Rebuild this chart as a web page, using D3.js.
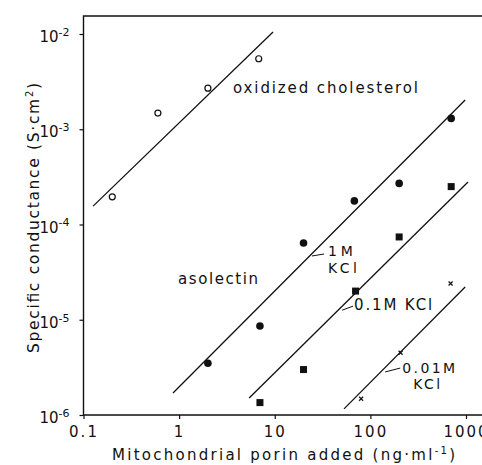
<!DOCTYPE html>
<html>
<head>
<meta charset="utf-8">
<script src="https://cdn.jsdelivr.net/npm/d3@7"></script>
<style>
  body { margin: 0; background: #fff; }
  svg { display: block; }
  text { font-family: "DejaVu Sans", "Liberation Sans", sans-serif; fill: #111; }
</style>
</head>
<body>
<svg id="svg" width="482" height="465"></svg>
<script>
'use strict';

// porin concentration (ng/ml) and conductance (S/cm2)
var cholX = [0.2, 0.6, 2, 6.8];
var cholY = [1.95e-4, 1.48e-3, 2.7e-3, 5.5e-3];
var kcl1X = [2, 7, 20, 68, 200, 700];
var kcl1Y = [3.5e-6, 8.6e-6, 6.4e-5, 1.77e-4, 2.7e-4, 1.3e-3];
var kcl01X = [7, 20, 70, 200, 700];
var kcl01Y = [1.35e-6, 3.0e-6, 2.0e-5, 7.4e-5, 2.5e-4];
var kcl001X = [80, 207, 690];
var kcl001Y = [1.48e-6, 4.5e-6, 2.4e-5];

// fitted lines, two ends each
var fitChol = [[0.126, 1.56e-4], [9.6, 1.05e-2]];
var fit1 = [[0.863, 1.70e-6], [980, 2.03e-3]];
var fit01 = [[5.4, 1.51e-6], [1050, 2.79e-4]];
var fit001 = [[53, 1.16e-6], [980, 2.21e-5]];

var xTicks = [0.1, 1, 10, 100, 1000];
var xTickLabels = ['0.1', '1', '10', '100', '1000'];
var yTicks = [1e-6, 1e-5, 1e-4, 1e-3, 1e-2];
var yTickExp = ['-6', '-5', '-4', '-3', '-2'];

var svg = d3.select('#svg');
var plotLeft = 83.5, plotBottom = 415, plotTop = 16;

var x = d3.scaleLog().domain([0.1, 1000]).range([plotLeft, 466]);
var y = d3.scaleLog().domain([1e-6, 1e-2]).range([plotBottom, 34]);

// frame: left, bottom and top lines running to the picture edge
svg.append('path')
    .attr('d', 'M482,' + plotTop + 'H' + plotLeft + 'V' + plotBottom + 'H482')
    .attr('fill', 'none').attr('stroke', '#111').attr('stroke-width', 1.4);

var xAxis = svg.append('g')
    .attr('transform', 'translate(0,' + plotBottom + ')')
    .call(d3.axisBottom(x).tickValues(xTicks).tickSize(4).tickPadding(7)
        .tickFormat(function(d, i) { return xTickLabels[i]; }));
xAxis.select('.domain').remove();
xAxis.selectAll('line').attr('stroke', '#111').attr('stroke-width', 1.2);
xAxis.selectAll('text')
    .attr('fill', '#111')
    .style('font-size', '15px')
    .style('letter-spacing', '2px')
    .style('font-family', '"DejaVu Sans", sans-serif');

var yAxis = svg.append('g')
    .attr('transform', 'translate(' + plotLeft + ',0)')
    .call(d3.axisLeft(y).tickValues(yTicks).tickSize(4).tickFormat(''));
yAxis.select('.domain').remove();
yAxis.selectAll('line').attr('stroke', '#111').attr('stroke-width', 1.2);
yAxis.selectAll('.tick').append('text')
    .attr('x', -14).attr('dy', '0.5em')
    .attr('text-anchor', 'end')
    .style('font-size', '15px')
    .style('font-family', '"DejaVu Sans", sans-serif')
    .each(function(d, i) {
      var t = d3.select(this);
      t.append('tspan').text('10');
      t.append('tspan').attr('dy', '-0.55em').style('font-size', '11px').text(yTickExp[i]);
    });

// axis titles
svg.append('text')
    .attr('x', 283.5).attr('y', 460)
    .attr('text-anchor', 'middle')
    .attr('textLength', 343).attr('lengthAdjust', 'spacing')
    .style('font-size', '15px')
    .html('Mitochondrial porin added (ng\u00b7ml<tspan dy="-6" font-size="10">-1</tspan><tspan dy="6">)</tspan>');

svg.append('text')
    .attr('transform', 'translate(39,218) rotate(-90)')
    .attr('text-anchor', 'middle')
    .attr('textLength', 270).attr('lengthAdjust', 'spacing')
    .style('font-size', '15.5px')
    .html('Specific conductance (S\u00b7cm<tspan dy="-6" font-size="10">2</tspan><tspan dy="6">)</tspan>');

// fitted lines
var line = d3.line()
    .x(function(d) { return x(d[0]); })
    .y(function(d) { return y(d[1]); });
svg.selectAll('path.fit')
    .data([fitChol, fit1, fit01, fit001])
    .enter().append('path')
    .attr('class', 'fit')
    .attr('d', line)
    .attr('fill', 'none').attr('stroke', '#111').attr('stroke-width', 1.3);

// markers
svg.selectAll('circle.chol')
    .data(cholX).enter().append('circle')
    .attr('class', 'chol')
    .attr('cx', function(d) { return x(d); })
    .attr('cy', function(d, i) { return y(cholY[i]); })
    .attr('r', 3)
    .attr('fill', '#fff').attr('stroke', '#111').attr('stroke-width', 1.2);

svg.selectAll('circle.k1')
    .data(kcl1X).enter().append('circle')
    .attr('class', 'k1')
    .attr('cx', function(d) { return x(d); })
    .attr('cy', function(d, i) { return y(kcl1Y[i]); })
    .attr('r', 3.8)
    .attr('fill', '#111');

svg.selectAll('rect.k01')
    .data(kcl01X).enter().append('rect')
    .attr('class', 'k01')
    .attr('x', function(d) { return x(d) - 3.5; })
    .attr('y', function(d, i) { return y(kcl01Y[i]) - 3.5; })
    .attr('width', 7).attr('height', 7)
    .attr('fill', '#111');

svg.selectAll('path.k001')
    .data(kcl001X).enter().append('path')
    .attr('class', 'k001')
    .attr('d', function(d, i) {
      var cx = x(d), cy = y(kcl001Y[i]), s = 2;
      return 'M' + (cx - s) + ',' + (cy - s) + 'L' + (cx + s) + ',' + (cy + s) +
             'M' + (cx - s) + ',' + (cy + s) + 'L' + (cx + s) + ',' + (cy - s);
    })
    .attr('stroke', '#111').attr('stroke-width', 1.2);

// labels, anchored in data units: x, y, text, width, font size
var labels = [
  [3.66, 2.4e-3, 'oxidized  cholesterol', 185, 15],
  [0.974, 2.37e-5, 'asolectin', 80, 15],
  [36, 4.67e-5, '1M', 25, 14],
  [36, 3.1e-5, 'KCl', 29, 14],
  [67.6, 1.26e-5, '0.1M  KCl', 78, 15],
  [215, 2.76e-6, '0.01M', 53, 14],
  [280, 1.88e-6, 'KCl', 27, 14]
];
labels.forEach(function(l) {
  svg.append('text')
      .attr('x', x(l[0])).attr('y', y(l[1]))
      .attr('textLength', l[3]).attr('lengthAdjust', 'spacing')
      .style('font-size', l[4] + 'px')
      .text(l[2]);
});

// short leader strokes from the lines to their labels
var leaders = [
  [[24.5, 4.67e-5], [32.8, 4.9e-5]],
  [[50.6, 1.26e-5], [65.9, 1.39e-5]],
  [[142.6, 2.83e-6], [205, 3.11e-6]]
];
svg.selectAll('path.leader')
    .data(leaders).enter().append('path')
    .attr('class', 'leader')
    .attr('d', line)
    .attr('fill', 'none').attr('stroke', '#111').attr('stroke-width', 1);
</script>
</body>
</html>
